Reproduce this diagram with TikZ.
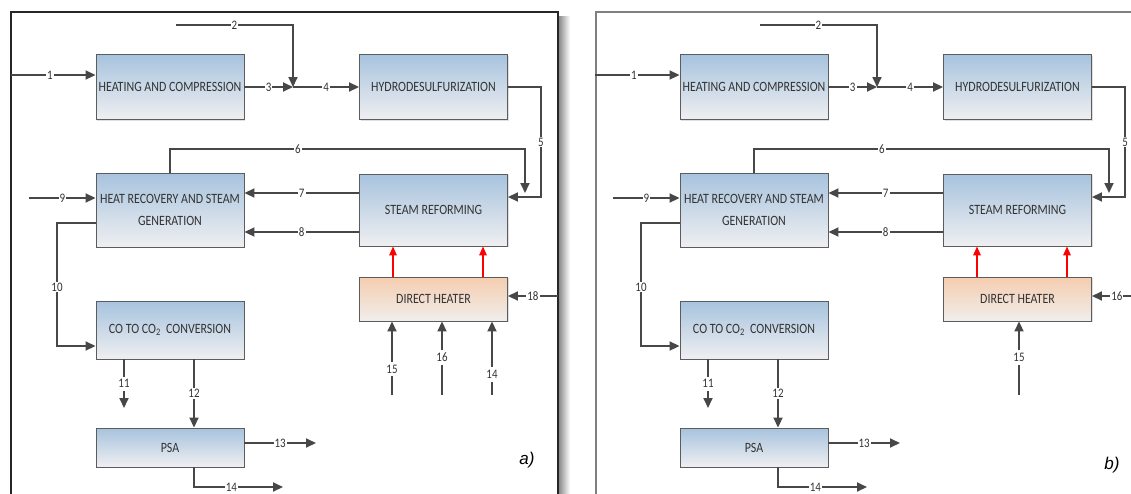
\documentclass[tikz,border=0pt]{standalone}
\usepackage{fontspec}
\setmainfont{Carlito}
\setsansfont{Liberation Sans}
\newfontfamily\boxfont{Carlito}[FakeStretch=0.84]
\usepackage{tikz}
\usetikzlibrary{arrows.meta,shadows}
\definecolor{flowgray}{HTML}{474747}
\definecolor{boxtop}{HTML}{A7C3DE}
\definecolor{boxbot}{HTML}{EFEFF1}
\definecolor{heattop}{HTML}{F5CDAF}
\definecolor{heatbot}{HTML}{F0EEEC}
\definecolor{boxline}{HTML}{5C5C5C}

\begin{document}
\begin{tikzpicture}[x=1pt,y=-1pt,
    unit/.style={rectangle, draw=boxline, line width=0.9pt, top color=boxtop, bottom color=boxbot,
        minimum width=148pt, inner sep=2pt, align=center, text=black!80,
        font=\boxfont\fontsize{14.2}{22}\selectfont,
        drop shadow={shadow xshift=1.2pt, shadow yshift=-1.2pt, opacity=0.25}},
    heater/.style={unit, top color=heattop, bottom color=heatbot},
    flow/.style={draw=flowgray, line width=1.8pt, -{Triangle[length=10pt,width=9pt]}},
    heat/.style={draw=red, line width=1.6pt, -{Triangle[length=9pt,width=7.5pt]}},
    num/.style={fill=white, inner sep=1pt, text=black!80, font=\boxfont\fontsize{13}{14}\selectfont}]
    \useasboundingbox (0,0) rectangle (1131,493);

    % frames
    \draw[line width=1.2pt, black!85] (11,505) |- (558,12) -- (558,505);
    \shade[left color=black!45, right color=white] (559,16) rectangle (570,493);
    \draw[line width=1.2pt, black!50] (596,505) |- (1140,12);

    \foreach \p/\sx in {a/0, b/584} {
        \begin{scope}[shift={(\sx,0)}]
            \node[unit, minimum height=65pt] (hc\p) at (170,87) {HEATING AND COMPRESSION};
            \node[unit, minimum height=65pt] (hds\p) at (433.5,87) {HYDRODESULFURIZATION};
            \node[unit, minimum height=74pt] (hr\p) at (170,210) {HEAT RECOVERY AND STEAM\\GENERATION};
            \node[unit, minimum height=72pt] (sr\p) at (433.5,210) {STEAM REFORMING};
            \node[heater, minimum height=44pt] (dh\p) at (433.5,299) {DIRECT HEATER};
            \node[unit, minimum height=58pt] (co\p) at (170,330) {CO TO CO\textsubscript{2}\ \ CONVERSION};
            \node[unit, minimum height=39pt] (psa\p) at (170,447.5) {PSA};

            \coordinate (in1\p) at (11,75);
            \coordinate (in2\p) at (176,25);
            \coordinate (j\p) at (293,87);
            \coordinate (c5\p) at (541,197);
            \coordinate (c6\p) at (525,149);
            \coordinate (t6\p) at (525,193);
            \coordinate (y8\p) at (0,232);
            \coordinate (in9\p) at (29,198);
            \coordinate (y10\p) at (0,223);
            \coordinate (c10\p) at (57,346);
            \coordinate (t11\p) at (124,408);
            \coordinate (x12\p) at (194,0);
            \coordinate (t13\p) at (316,443);
            \coordinate (t14\p) at (283,487);
            \coordinate (xh1\p) at (393,0);
            \coordinate (xh2\p) at (483,0);

            \draw[flow] (in1\p) -- node[num, pos=0.46]{1} (in1\p -| hc\p.west);
            \draw[flow] (in2\p) -| node[num, pos=0.25]{2} (j\p);
            \draw[flow] (hc\p.east) -- node[num]{3} (j\p);
            \draw[flow] (j\p) -- node[num]{4} (hds\p.west);
            \draw[flow] (hds\p.east) -| node[num, pos=0.75]{5} (c5\p) -- (sr\p.east |- c5\p);
            \draw[flow] (hr\p.north) |- node[num, pos=0.68]{6} (c6\p) -- (t6\p);
            \draw[flow] (sr\p.west |- t6\p) -- node[num]{7} (hr\p.east |- t6\p);
            \draw[flow] (sr\p.west |- y8\p) -- node[num]{8} (hr\p.east |- y8\p);
            \draw[flow] (in9\p) -- node[num]{9} (hr\p.west |- in9\p);
            \draw[flow] (hr\p.west |- y10\p) -| node[num, pos=0.76]{10} (c10\p) -- (co\p.west |- c10\p);
            \draw[flow] (co\p.south -| t11\p) -- node[num, inner sep=3pt]{11} (t11\p);
            \draw[flow] (co\p.south -| x12\p) -- node[num]{12} (psa\p.north -| x12\p);
            \draw[flow] (psa\p.east |- t13\p) -- node[num]{13} (t13\p);
            \draw[flow] (psa\p.south -| x12\p) |- node[num, pos=0.71]{14} (t14\p);

            \draw[heat] (dh\p.north -| xh1\p) -- (sr\p.south -| xh1\p);
            \draw[heat] (dh\p.north -| xh2\p) -- (sr\p.south -| xh2\p);
        \end{scope}
    }

    % panel a
    \coordinate (in18a) at (558,296);
    \coordinate (s15a) at (392,395);
    \coordinate (s16a) at (442,395);
    \coordinate (s14a) at (492,395);
    \draw[flow] (in18a) -- node[num]{18} (dha.east |- in18a);
    \draw[flow] (s15a) -- node[num, inner sep=3pt, pos=0.35]{15} (dha.south -| s15a);
    \draw[flow] (s16a) -- node[num, inner sep=3pt, pos=0.51]{16} (dha.south -| s16a);
    \draw[flow] (s14a) -- node[num, inner sep=3pt, pos=0.28]{14} (dha.south -| s14a);
    \node[font=\sffamily\itshape\fontsize{17}{20}\selectfont] (taga) at (527,460) {a)};

    % panel b
    \coordinate (in16b) at (1131,296);
    \coordinate (s15b) at (1019,395);
    \draw[flow] (in16b) -- node[num, pos=0.36]{16} (dhb.east |- in16b);
    \draw[flow] (s15b) -- node[num, inner sep=3pt, pos=0.51]{15} (dhb.south -| s15b);
    \node[font=\sffamily\itshape\fontsize{17}{20}\selectfont] (tagb) at (1112,465) {b)};
\end{tikzpicture}
\end{document}
